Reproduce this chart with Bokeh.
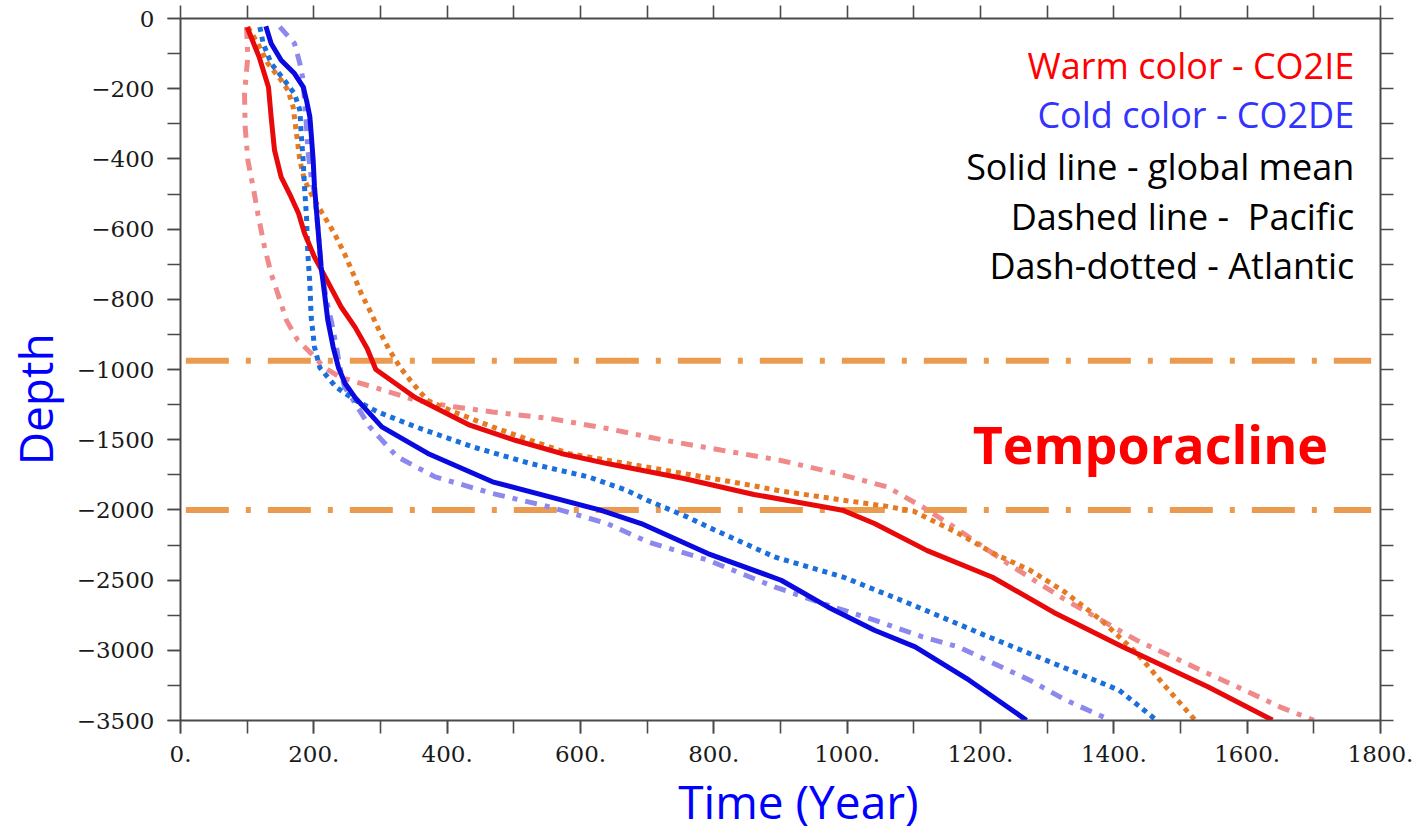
import numpy as np
from bokeh.plotting import figure
from bokeh.models import Range1d, LinearAxis, FixedTicker, PrintfTickFormatter, Label
from bokeh.embed import file_html
from bokeh.resources import INLINE

# ---------------- data (year, depth in m) ----------------
ie_global_year = [100, 118, 132, 136, 141, 151, 166, 177, 186, 201, 222, 241, 262, 280, 293, 352, 434, 502,
                  571, 640, 755, 860, 993, 1041, 1120, 1218, 1310, 1413, 1541, 1638]
ie_global_depth = [-25, -110, -196, -281, -375, -452, -509, -555, -612, -680, -754, -822, -880, -940, -1000,
                   -1200, -1397, -1504, -1598, -1670, -1776, -1890, -2002, -2097, -2290, -2480, -2730, -2974,
                   -3259, -3497]

ie_pacific_year = [101, 116, 131, 151, 161, 169, 174, 179, 186, 201, 216, 231, 246, 259, 271, 286, 300, 315,
                   330, 345, 370, 410, 468, 525, 583, 669, 755, 841, 900, 1000, 1060, 1100, 1167, 1220, 1274,
                   1325, 1381, 1435, 1478, 1522]
ie_pacific_depth = [-24, -71, -128, -176, -204, -252, -328, -404, -461, -518, -565, -613, -670, -727, -783,
                    -840, -897, -950, -995, -1079, -1219, -1302, -1409, -1504, -1599, -1670, -1741, -1812,
                    -1865, -1935, -1975, -2010, -2168, -2311, -2429, -2580, -2785, -3023, -3261, -3498]

ie_atlantic_year = [99, 101, 96, 97, 101, 109, 116, 126, 136, 146, 159, 176, 196, 215, 238, 296, 353, 410,
                    468, 554, 640, 726, 812, 899, 985, 1060, 1113, 1160, 1200, 1241, 1290, 1328, 1381, 1434,
                    1488, 1541, 1596, 1649, 1700]
ie_atlantic_depth = [-24, -109, -214, -309, -404, -480, -556, -651, -727, -784, -860, -917, -954, -993, -1052,
                     -1135, -1219, -1266, -1302, -1349, -1420, -1504, -1575, -1646, -1741, -1836, -1979,
                     -2120, -2250, -2382, -2530, -2643, -2785, -2928, -3047, -3165, -3284, -3403, -3498]

de_global_year = [128, 136, 151, 171, 184, 189, 194, 196, 199, 201, 206, 211, 216, 221, 229, 237, 247, 262,
                  302, 371, 468, 554, 630, 691, 791, 901, 971, 1041, 1102, 1183, 1269]
de_global_depth = [-22, -71, -119, -157, -195, -233, -280, -327, -404, -480, -594, -708, -783, -860, -936,
                   -995, -1100, -1200, -1409, -1598, -1800, -1907, -2002, -2097, -2311, -2501, -2691, -2857,
                   -2976, -3213, -3498]

de_pacific_year = [119, 124, 136, 156, 171, 179, 181, 184, 186, 189, 191, 194, 196, 201, 209, 233, 262, 296,
                   353, 439, 525, 612, 669, 700, 760, 791, 891, 995, 1100, 1205, 1408, 1464]
de_pacific_depth = [-24, -71, -128, -176, -214, -261, -328, -404, -480, -565, -670, -755, -850, -936, -995,
                    -1124, -1219, -1302, -1409, -1552, -1670, -1765, -1860, -1931, -2050, -2121, -2335, -2480,
                    -2680, -2890, -3284, -3498]

de_atlantic_year = [149, 171, 179, 184, 186, 189, 191, 196, 201, 206, 211, 219, 226, 234, 239, 246, 256, 284,
                    325, 382, 468, 554, 640, 701, 791, 891, 971, 1041, 1113, 1167, 1220, 1274, 1328, 1395]
de_atlantic_depth = [-24, -71, -128, -176, -233, -309, -375, -451, -499, -594, -708, -803, -860, -936, -993,
                     -1124, -1195, -1409, -1622, -1765, -1883, -1979, -2097, -2228, -2358, -2548, -2679, -2785,
                     -2904, -2976, -3094, -3213, -3355, -3498]

temporacline_depths = [-975, -2000]
temporacline_span = [8, 1786]

x_tick_values = list(range(0, 1801, 200))
x_minor_values = list(range(0, 1801, 100))
depth_tick_values = [0, -200, -400, -600, -800, -1000, -1500, -2000, -2500, -3000, -3500]

legend_lines = ["Warm color - CO2IE", "Cold color - CO2DE", "Solid line - global mean",
                "Dashed line -\u00a0 Pacific", "Dash-dotted - Atlantic"]


# piecewise-linear depth scale: 0..-1000 stretched, -1000..-3500 compressed
def tr(d):
    d = np.asarray(d, dtype=float)
    return np.where(d >= -1000, d, -1000 + (d + 1000) * 0.4)


p = figure(width=1422, height=840, output_backend="svg", toolbar_location=None,
           x_range=Range1d(0, 1800), y_range=Range1d(float(tr(-3500)), 0),
           min_border_left=179, min_border_right=42, min_border_top=18, min_border_bottom=120)
p.background_fill_color = "white"
p.border_fill_color = "white"
p.outline_line_color = None
p.xgrid.visible = False
p.ygrid.visible = False

AX = "#4a4a4a"
TICK_FONT = "DejaVu Serif"
TITLE_FONT = "Open Sans"


def style_axis(ax):
    ax.axis_line_color = AX
    ax.axis_line_width = 2
    ax.major_tick_line_color = AX
    ax.minor_tick_line_color = AX
    ax.major_tick_line_width = 1.6
    ax.minor_tick_line_width = 1.6
    ax.major_tick_in = 0
    ax.major_tick_out = 13
    ax.minor_tick_in = 0
    ax.minor_tick_out = 13
    ax.major_label_text_font = TICK_FONT
    ax.major_label_text_font_size = "23px"
    ax.major_label_text_color = "#1a1a1a"
    ax.axis_label_text_font = TITLE_FONT
    ax.axis_label_text_font_style = "normal"
    ax.axis_label_text_font_size = "46px"
    ax.axis_label_text_color = "#0000ff"


xt = FixedTicker(ticks=x_tick_values, minor_ticks=x_minor_values)
yt_vals = [float(v) for v in tr(depth_tick_values)]
yt_minor = [float(v) for v in np.arange(0, -2001, -100)]
yt = FixedTicker(ticks=yt_vals, minor_ticks=yt_minor)

xa = p.xaxis[0]
xa.ticker = xt
xa.formatter = PrintfTickFormatter(format="%d.")
style_axis(xa)
xa.major_label_standoff = 12
xa.axis_label = "\u00a0" * 3 + "Time (Year)"
xa.axis_label_standoff = 5

ya = p.yaxis[0]
ya.ticker = yt
style_axis(ya)
ya.major_label_standoff = 13
ya.major_label_overrides = {int(round(t)): ("0" if d == 0 else "\u2212" + str(-d))
                            for t, d in zip(yt_vals, depth_tick_values)}
ya.axis_label = "Depth" + "\u00a0" * 5
ya.axis_label_standoff = 8

# frame ticks on top and right: tick marks only, no labels
top = LinearAxis(ticker=FixedTicker(ticks=[], minor_ticks=x_minor_values))
style_axis(top)
p.add_layout(top, "above")

right = LinearAxis(ticker=FixedTicker(ticks=[], minor_ticks=yt_minor))
style_axis(right)
p.add_layout(right, "right")

# temporacline boundaries
for d in temporacline_depths:
    p.line(temporacline_span, [float(tr(d))] * 2, line_color="#eb9b50", line_width=6,
           line_dash="43 17 5 17")

# curves
p.line(ie_atlantic_year, tr(ie_atlantic_depth), line_color="#f08a8a", line_width=5, line_dash="12 8 5 8")
p.line(de_atlantic_year, tr(de_atlantic_depth), line_color="#8c88ee", line_width=5, line_dash="12 8 5 8")
p.line(ie_pacific_year, tr(ie_pacific_depth), line_color="#e57a22", line_width=5, line_dash="5 5")
p.line(de_pacific_year, tr(de_pacific_depth), line_color="#1a6fdc", line_width=5, line_dash="5 5")
p.line(ie_global_year, tr(ie_global_depth), line_color="#e80a0a", line_width=5, line_join="round")
p.line(de_global_year, tr(de_global_depth), line_color="#0a0ae0", line_width=5, line_join="round")


# text annotations (positions in data space of the frame)
def px_to_x(px):
    return (px - 179.3) / (1201.0 / 1800.0)


def px_to_y(py):
    return -(py - 18.3) / (702.0 / 2000.0)


legend_colors = ["#ff0000", "#3333ff", "#000000", "#000000", "#000000"]
legend_base_px = [65, 114, 166, 216, 265]
for txt, col, by in zip(legend_lines, legend_colors, legend_base_px):
    p.add_layout(Label(x=px_to_x(1354), y=px_to_y(by), text=txt, text_align="right",
                       text_baseline="alphabetic", text_font=TITLE_FONT, text_font_size="36px",
                       text_color=col))

p.add_layout(Label(x=px_to_x(1150), y=px_to_y(443), text="Temporacline", text_align="center",
                   text_baseline="alphabetic", text_font=TITLE_FONT, text_font_style="bold",
                   text_font_size="52px", text_color="#ff0000"))

open("out.html", "w").write(file_html(p, INLINE))
